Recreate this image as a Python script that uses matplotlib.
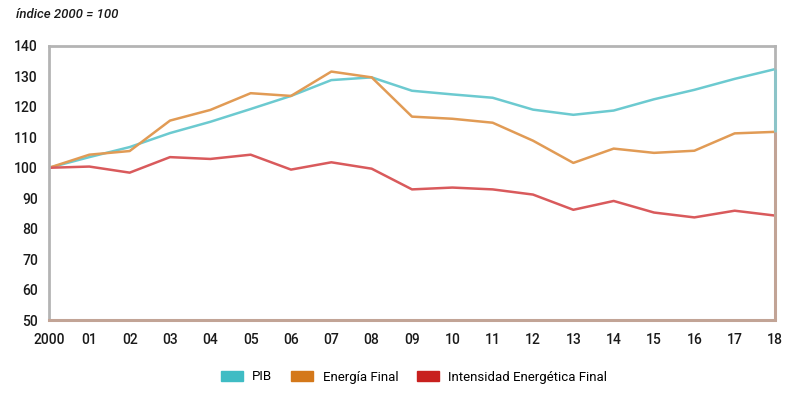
import matplotlib
matplotlib.use("Agg")
import matplotlib.pyplot as plt
from matplotlib.patches import Patch

years = list(range(2000, 2019))
xlabels = ["2000"] + [f"{y % 100:02d}" for y in years[1:]]
pib = [100, 103.5, 106.8, 111.4, 115.1, 119.3, 123.6, 128.8, 129.7, 125.3,
       124.1, 123.0, 119.1, 117.4, 118.8, 122.5, 125.6, 129.2, 132.4]
energia = [100, 104.3, 105.5, 115.5, 119.0, 124.5, 123.6, 131.6, 129.7, 116.8,
           116.1, 114.8, 108.9, 101.6, 106.3, 104.9, 105.6, 111.3, 111.8]
intensidad = [100, 100.4, 98.4, 103.5, 102.9, 104.3, 99.4, 101.8, 99.7, 92.9,
              93.5, 92.9, 91.2, 86.2, 89.1, 85.3, 83.7, 85.9, 84.3]
yticks = [50, 60, 70, 80, 90, 100, 110, 120, 130, 140]
names = ["PIB", "Energía Final", "Intensidad Energética Final"]

plt.rcParams["font.family"] = ["Roboto", "DejaVu Sans"]

c_pib, c_en, c_int = "#6ccad0", "#e19b55", "#d95a5c"
leg_cols = ["#3fbcc4", "#d4781a", "#c8201e"]

fig = plt.figure(figsize=(8, 3.95), dpi=100)
ax = fig.add_axes([49/800, 75/395, 726/800, 274/395])
ax.plot(years, pib, color=c_pib, lw=1.8)
ax.plot(years, energia, color=c_en, lw=1.8)
ax.plot(years, intensidad, color=c_int, lw=1.8)
ax.vlines(years[-1], energia[-1], pib[-1], color="#8cc4c8", lw=2.2,
          zorder=5, clip_on=False)
ax.vlines(years[-1], 50, energia[-1], color="#c2a496", lw=2.2,
          zorder=5, clip_on=False)

ax.set_xlim(2000, 2018)
ax.set_ylim(50, 140)
ax.set_xticks(years)
ax.set_xticklabels(xlabels)
ax.set_yticks(yticks)
ax.tick_params(length=0, labelsize=10, colors="#1a1a1a")
ax.tick_params(axis="x", pad=9)
ax.tick_params(axis="y", pad=8)
for lab in ax.get_xticklabels() + ax.get_yticklabels():
    lab.set_fontweight("medium")
for s in ["top", "left", "right"]:
    ax.spines[s].set_color("#b4b4b4")
    ax.spines[s].set_linewidth(2)
ax.spines["bottom"].set_color("#c2a496")
ax.spines["bottom"].set_linewidth(2.2)

fig.text(16/800, 1 - 15/395, "índice 2000 = 100", fontsize=9.5, style="italic",
         fontweight="medium", color="#1a1a1a", va="center", ha="left")

handles = [Patch(facecolor=c, edgecolor=c) for c in leg_cols]
fig.legend(handles, names, loc="center", bbox_to_anchor=(414/800, 1 - 377/395),
           ncol=3, frameon=False, fontsize=9.5, handlelength=1.7, handleheight=0.75,
           columnspacing=1.4, handletextpad=0.7)

fig.savefig("out.png", dpi=100)
